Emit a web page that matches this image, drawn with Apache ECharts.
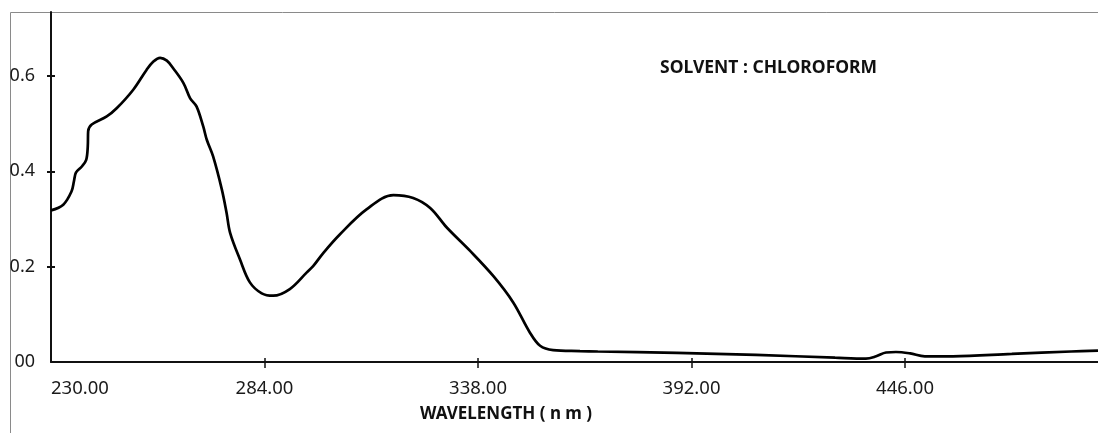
<!DOCTYPE html>
<html>
<head>
<meta charset="utf-8">
<script src="https://cdn.jsdelivr.net/npm/echarts@6/dist/echarts.min.js"></script>
<style>
html,body{margin:0;padding:0;background:#fff;}
#chart{width:1098px;height:433px;}
</style>
</head>
<body>
<div id="chart"></div>
<script>
// Wavelength (nm) and absorbance
const wavelengths = [230.0,233.1,235.2,235.8,236.3,237.8,238.9,239.3,239.4,240.3,244.1,246.6,250.8,254.2,255.9,257.6,259.3,260.9,263.5,265.2,266.8,268.5,269.4,271.0,273.2,274.4,275.3,277.8,280.3,283.3,286.2,290.4,294.7,296.3,298.9,303.1,309.8,316.6,321.6,325.9,330.1,336.0,341.9,346.9,351.1,353.7,357.0,363.8,368.3,388.3,408.3,428.3,436.1,438.7,441.2,443.7,447.3,451.0,458.1,473.0,488.0,494.8];
const absorbance  = [0.318,0.330,0.358,0.379,0.397,0.410,0.424,0.452,0.484,0.498,0.515,0.532,0.571,0.613,0.630,0.638,0.632,0.616,0.585,0.553,0.536,0.494,0.466,0.431,0.362,0.313,0.271,0.215,0.167,0.144,0.139,0.153,0.188,0.201,0.229,0.268,0.320,0.350,0.344,0.323,0.282,0.233,0.180,0.125,0.062,0.034,0.025,0.023,0.022,0.019,0.015,0.009,0.007,0.012,0.020,0.021,0.018,0.012,0.012,0.017,0.022,0.024];

const xTickValues = [230, 284, 338, 392, 446];
const xTickLabels = ['230.00', '284.00', '338.00', '392.00', '446.00'];
const yTickValues = [0, 0.2, 0.4, 0.6];
const yTickLabels = ['00', '0.2', '0.4', '0.6'];

const xAxisTitle = 'WAVELENGTH ( n m )';
const annotation = 'SOLVENT : CHLOROFORM';

const X_MIN = 230, X_MAX = 494.8, Y_MIN = 0, Y_MAX = 0.734;
const FONT = '"Noto Sans", "Open Sans", sans-serif';

const chart = echarts.init(document.getElementById('chart'), null, {renderer: 'canvas'});

const lookup = (vals, labels) => v => {
  for (let i = 0; i < vals.length; i++) if (Math.abs(vals[i] - v) < 1e-6) return labels[i];
  return '';
};

chart.setOption({
  animation: false,
  backgroundColor: '#ffffff',
  grid: {left: 51, right: 0, top: 12, bottom: 71, outerBoundsMode: 'none', containLabel: false},
  xAxis: [{
    type: 'value', min: X_MIN, max: X_MAX, position: 'bottom',
    axisLine: {show: true, onZero: false, lineStyle: {color: '#111', width: 2}},
    axisTick: {show: true, customValues: xTickValues.slice(1), length: 6, lineStyle: {color: '#111', width: 1.5}},
    axisLabel: {show: true, customValues: xTickValues, formatter: lookup(xTickValues, xTickLabels),
      alignMinLabel: 'left', margin: 17, color: '#1a1a1a', fontFamily: FONT, fontSize: 18.5},
    splitLine: {show: false}
  }, {
    type: 'value', min: X_MIN, max: X_MAX, position: 'bottom', offset: 0,
    axisLine: {show: false},
    axisTick: {show: true, inside: true, customValues: xTickValues.slice(1), length: 4, lineStyle: {color: '#111', width: 1.5}},
    axisLabel: {show: false},
    splitLine: {show: false}
  }],
  yAxis: [{
    type: 'value', min: Y_MIN, max: Y_MAX, position: 'left',
    axisLine: {show: true, onZero: false, lineStyle: {color: '#111', width: 2}},
    axisTick: {show: true, customValues: yTickValues.slice(1), length: 4, lineStyle: {color: '#111', width: 2}},
    axisLabel: {show: true, customValues: yTickValues, formatter: lookup(yTickValues, yTickLabels),
      margin: 16, color: '#1a1a1a', fontFamily: FONT, fontSize: 18},
    splitLine: {show: false}
  }, {
    type: 'value', min: Y_MIN, max: Y_MAX, position: 'left', offset: 0,
    axisLine: {show: false},
    axisTick: {show: true, inside: true, customValues: yTickValues.slice(1), length: 4, lineStyle: {color: '#111', width: 2}},
    axisLabel: {show: false},
    splitLine: {show: false}
  }],
  graphic: [
    {type: 'rect', silent: true, z: -1,
      shape: {x: 10.5, y: 12.5, width: 3000, height: 3000},
      style: {fill: null, stroke: '#8a8a8a', lineWidth: 1}},
    {type: 'text', x: 506, y: 414, silent: true,
      style: {text: xAxisTitle, font: 'bold 17px ' + FONT, fill: '#111', textAlign: 'center', textVerticalAlign: 'middle'}},
    {type: 'text', x: 660, y: 68, silent: true,
      style: {text: annotation, font: 'bold 17.5px ' + FONT, fill: '#111', textAlign: 'left', textVerticalAlign: 'middle'}}
  ],
  series: [{
    type: 'line',
    xAxisIndex: 0, yAxisIndex: 0,
    data: wavelengths.map((w, i) => [w, absorbance[i]]),
    smooth: 0.35,
    showSymbol: false,
    symbol: 'none',
    lineStyle: {color: '#000', width: 2.7},
    clip: true
  }]
});
</script>
</body>
</html>
